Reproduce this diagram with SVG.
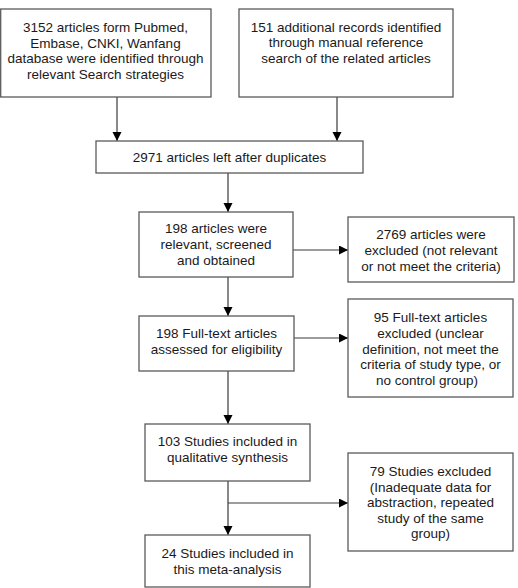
<svg xmlns="http://www.w3.org/2000/svg" width="518" height="588" viewBox="0 0 518 588">
<style>
.box{fill:#fff;stroke:#5a5a5a;stroke-width:1.3}
.t{font-family:"Liberation Sans",Arial,sans-serif;font-size:13.5px;fill:#1a1a1a;text-anchor:middle}
.c{stroke:#3a3a3a;stroke-width:1.2;fill:none}
</style>
<defs>
<marker id="ah" markerUnits="userSpaceOnUse" markerWidth="10" markerHeight="10" refX="9" refY="4.5" orient="auto">
<path d="M0,0 L9,4.5 L0,9 z" fill="#000"/>
</marker>
</defs>
<rect width="518" height="588" fill="#fff"/>
<g id="connectors">
<line class="c" x1="117" y1="97" x2="117" y2="141" marker-end="url(#ah)"/>
<line class="c" x1="337" y1="97" x2="337" y2="141" marker-end="url(#ah)"/>
<line class="c" x1="228" y1="173" x2="228" y2="212" marker-end="url(#ah)"/>
<line class="c" x1="293" y1="250" x2="348" y2="250" marker-end="url(#ah)"/>
<line class="c" x1="228" y1="277" x2="228" y2="316" marker-end="url(#ah)"/>
<line class="c" x1="294" y1="338" x2="348" y2="338" marker-end="url(#ah)"/>
<line class="c" x1="228" y1="371" x2="228" y2="424" marker-end="url(#ah)"/>
<line class="c" x1="228" y1="481" x2="228" y2="535" marker-end="url(#ah)"/>
<line class="c" x1="228" y1="503" x2="348" y2="503" marker-end="url(#ah)"/>
</g>
<g id="n1">
<rect class="box" x="0.7" y="9" width="210.3" height="88"/>
<text class="t" x="105.5" y="32">3152 articles form Pubmed,</text>
<text class="t" x="105.5" y="47.5">Embase, CNKI, Wanfang</text>
<text class="t" x="105.5" y="63">database were identified through</text>
<text class="t" x="105.5" y="78.5">relevant Search strategies</text>
</g>
<g id="n2">
<rect class="box" x="239" y="9" width="214" height="88"/>
<text class="t" x="346" y="31.5">151 additional records identified</text>
<text class="t" x="346" y="47">through manual reference</text>
<text class="t" x="346" y="62.5">search of the related articles</text>
</g>
<g id="n3">
<rect class="box" x="96" y="141" width="267" height="32"/>
<text class="t" x="229.5" y="162">2971 articles left after duplicates</text>
</g>
<g id="n4">
<rect class="box" x="139" y="212" width="154" height="65"/>
<text class="t" x="216" y="233">198 articles were</text>
<text class="t" x="216" y="249">relevant, screened</text>
<text class="t" x="216" y="264.5">and obtained</text>
</g>
<g id="n5">
<rect class="box" x="348" y="217" width="166" height="65"/>
<text class="t" x="431" y="239">2769 articles were</text>
<text class="t" x="431" y="255">excluded (not relevant</text>
<text class="t" x="431" y="270.5">or not meet the criteria)</text>
</g>
<g id="n6">
<rect class="box" x="139" y="316" width="155" height="55"/>
<text class="t" x="216.5" y="338">198 Full-text articles</text>
<text class="t" x="216.5" y="354">assessed for eligibility</text>
</g>
<g id="n7">
<rect class="box" x="348" y="299" width="165" height="98"/>
<text class="t" x="430.5" y="322">95 Full-text articles</text>
<text class="t" x="430.5" y="338">excluded (unclear</text>
<text class="t" x="430.5" y="353.5">definition, not meet the</text>
<text class="t" x="430.5" y="369">criteria of study type, or</text>
<text class="t" x="427" y="384.5">no control group)</text>
</g>
<g id="n8">
<rect class="box" x="145" y="424" width="165" height="57"/>
<text class="t" x="227.5" y="446">103 Studies included in</text>
<text class="t" x="227.5" y="462">qualitative synthesis</text>
</g>
<g id="n9">
<rect class="box" x="348" y="453" width="165" height="98"/>
<text class="t" x="430.5" y="476">79 Studies excluded</text>
<text class="t" x="430.5" y="491.5">(Inadequate data for</text>
<text class="t" x="430.5" y="507">abstraction, repeated</text>
<text class="t" x="430.5" y="522.5">study of the same</text>
<text class="t" x="430.5" y="538">group)</text>
</g>
<g id="n10">
<rect class="box" x="145" y="535" width="165" height="52"/>
<text class="t" x="227.5" y="558">24 Studies included in</text>
<text class="t" x="227.5" y="573.5">this meta-analysis</text>
</g>
</svg>
